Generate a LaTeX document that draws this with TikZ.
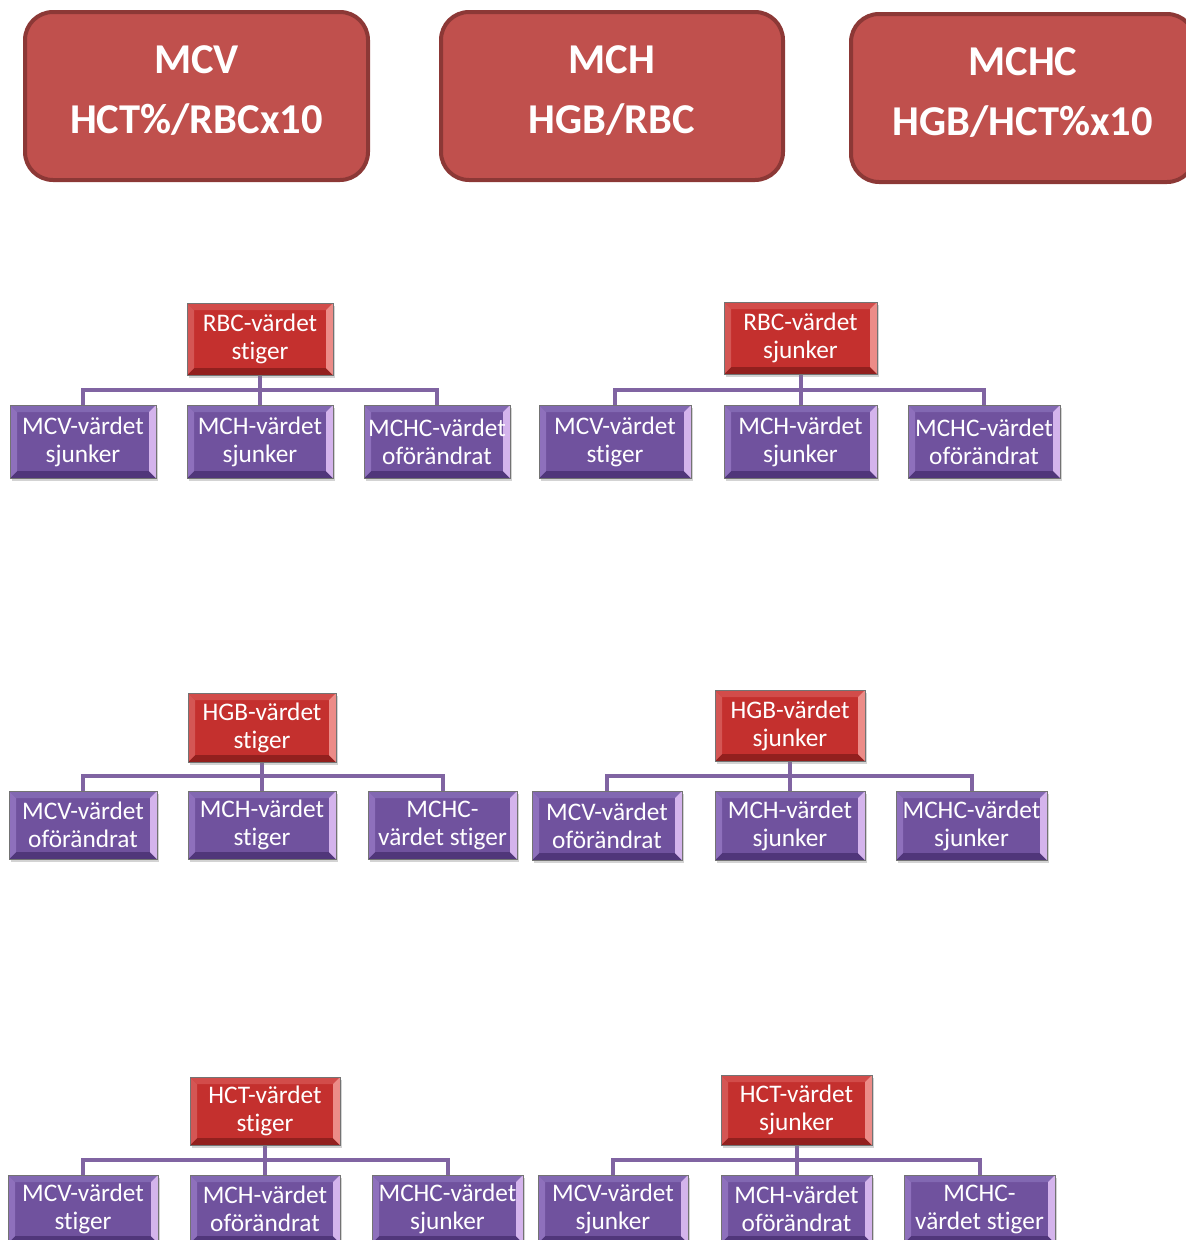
\documentclass[tikz,border=0pt]{standalone}
\usepackage{fontspec}
\setmainfont[Ligatures=NoCommon]{Carlito}
\usetikzlibrary{shadows,backgrounds}
\definecolor{topred}{RGB}{192,80,77}
\definecolor{topredline}{RGB}{140,56,54}
\definecolor{rmain}{RGB}{196,48,46}
\definecolor{rleft}{RGB}{212,86,84}
\definecolor{rright}{RGB}{236,140,136}
\definecolor{rtop}{RGB}{210,76,74}
\definecolor{rbot}{RGB}{146,32,30}
\definecolor{pmain}{RGB}{112,82,158}
\definecolor{pleft}{RGB}{142,112,188}
\definecolor{pright}{RGB}{212,180,236}
\definecolor{ptop}{RGB}{130,104,178}
\definecolor{pbot}{RGB}{80,54,122}
\definecolor{connc}{RGB}{128,100,162}
\newcommand{\bevelfill}[5]{%
  \path (path picture bounding box.south west) coordinate (pa)
        (path picture bounding box.north east) coordinate (pb)
        (path picture bounding box.north west) coordinate (pc)
        (path picture bounding box.south east) coordinate (pd);
  \fill[#1] (pa) rectangle (pb);
  \fill[#4] (pc) -- (pb) -- ([xshift=-7pt,yshift=-7pt]pb) -- ([xshift=7pt,yshift=-7pt]pc) -- cycle;
  \fill[#5] (pa) -- (pd) -- ([xshift=-7pt,yshift=7pt]pd) -- ([xshift=7pt,yshift=7pt]pa) -- cycle;
  \fill[#2] (pa) -- ([xshift=7pt,yshift=7pt]pa) -- ([xshift=7pt,yshift=-7pt]pc) -- (pc) -- cycle;
  \fill[#3] (pd) -- ([xshift=-7pt,yshift=7pt]pd) -- ([xshift=-7pt,yshift=-7pt]pb) -- (pb) -- cycle;
}
\tikzset{
  topbox/.style={draw=topredline, line width=4pt, fill=topred, rounded corners=28pt, inner sep=0pt},
  toptext/.style={text=white, font=\fontsize{42.5}{60}\selectfont\bfseries, align=center, inner sep=0pt},
  smallbox/.style={draw=black!55, line width=0.8pt, text=white, align=center, inner sep=0pt,
    font=\fontsize{25.3}{28}\selectfont,
    drop shadow={opacity=0.35, shadow xshift=2pt, shadow yshift=-3pt}},
  redbox/.style={smallbox, path picture={\bevelfill{rmain}{rleft}{rright}{rtop}{rbot}}},
  purplebox/.style={smallbox, path picture={\bevelfill{pmain}{pleft}{pright}{ptop}{pbot}}},
  conn/.style={draw=connc, line width=4pt}
}
\begin{document}
\begin{tikzpicture}[x=1pt,y=-1pt]
\useasboundingbox (0,0) rectangle (1186,1240);
% top boxes
\node[topbox, minimum width=343, minimum height=168] (mcv) at (196.5,96) {};
\node[toptext] (mcvt) at ([yshift=5pt]mcv.center) {MCV\\HCT\%/RBCx10};
\node[topbox, minimum width=342, minimum height=168] (mch) at (612,96) {};
\node[toptext] (mcht) at ([yshift=5pt]mch.center) {MCH\\HGB/RBC};
\node[topbox, minimum width=344, minimum height=168] (mchc) at (1023,98) {};
\node[toptext] (mchct) at ([yshift=5pt]mchc.center) {MCHC\\HGB/HCT\%x10};

% ---------- Row 1 left
\node[redbox, minimum width=146, minimum height=72] (r1p) at (260,339) {RBC-värdet\\stiger};
\node[purplebox, minimum width=146, minimum height=73] (r1a) at (83,441.5) {MCV-värdet\\sjunker};
\node[purplebox, minimum width=146, minimum height=73] (r1b) at (260,441.5) {MCH-värdet\\sjunker};
\node[purplebox, minimum width=146, minimum height=73] (r1c) at (437,441.5) {MCHC-värdet\\oförändrat};

% ---------- Row 1 right
\node[redbox, minimum width=153, minimum height=72] (r2p) at (800.5,338) {RBC-värdet\\sjunker};
\node[purplebox, minimum width=152, minimum height=73] (r2a) at (615,441.5) {MCV-värdet\\stiger};
\node[purplebox, minimum width=153, minimum height=73] (r2b) at (800.5,441.5) {MCH-värdet\\sjunker};
\node[purplebox, minimum width=152, minimum height=73] (r2c) at (984,441.5) {MCHC-värdet\\oförändrat};

% ---------- Row 2 left
\node[redbox, minimum width=148, minimum height=69] (r3p) at (262,727.5) {HGB-värdet\\stiger};
\node[purplebox, minimum width=148, minimum height=68] (r3a) at (83,825) {MCV-värdet\\oförändrat};
\node[purplebox, minimum width=148, minimum height=68] (r3b) at (262,825) {MCH-värdet\\stiger};
\node[purplebox, minimum width=149, minimum height=68] (r3c) at (442.5,825) {MCHC-\\värdet stiger};

% ---------- Row 2 right
\node[redbox, minimum width=150, minimum height=71] (r4p) at (790,725.5) {HGB-värdet\\sjunker};
\node[purplebox, minimum width=150, minimum height=69] (r4a) at (607,825.5) {MCV-värdet\\oförändrat};
\node[purplebox, minimum width=150, minimum height=69] (r4b) at (790,825.5) {MCH-värdet\\sjunker};
\node[purplebox, minimum width=151, minimum height=69] (r4c) at (971.5,825.5) {MCHC-värdet\\sjunker};

% ---------- Row 3 left
\node[redbox, minimum width=150, minimum height=68] (r5p) at (265,1111) {HCT-värdet\\stiger};
\node[purplebox, minimum width=150, minimum height=68] (r5a) at (83,1209) {MCV-värdet\\stiger};
\node[purplebox, minimum width=150, minimum height=68] (r5b) at (265,1209) {MCH-värdet\\oförändrat};
\node[purplebox, minimum width=151, minimum height=68] (r5c) at (447.5,1209) {MCHC-värdet\\sjunker};

% ---------- Row 3 right
\node[redbox, minimum width=151, minimum height=70] (r6p) at (796.5,1110) {HCT-värdet\\sjunker};
\node[purplebox, minimum width=150, minimum height=68] (r6a) at (613,1209) {MCV-värdet\\sjunker};
\node[purplebox, minimum width=151, minimum height=68] (r6b) at (796.5,1209) {MCH-värdet\\oförändrat};
\node[purplebox, minimum width=151, minimum height=68] (r6c) at (979.5,1209) {MCHC-\\värdet stiger};

% connectors (behind boxes)
\begin{scope}[on background layer]
\foreach \t in {r1,r2,r3,r4,r5,r6}{
  \draw[conn] (\t p.south) -- (\t b.north);
  \draw[conn] (\t a.north) -- ++(0,-15) -| (\t c.north);
}
\end{scope}
\end{tikzpicture}
\end{document}
